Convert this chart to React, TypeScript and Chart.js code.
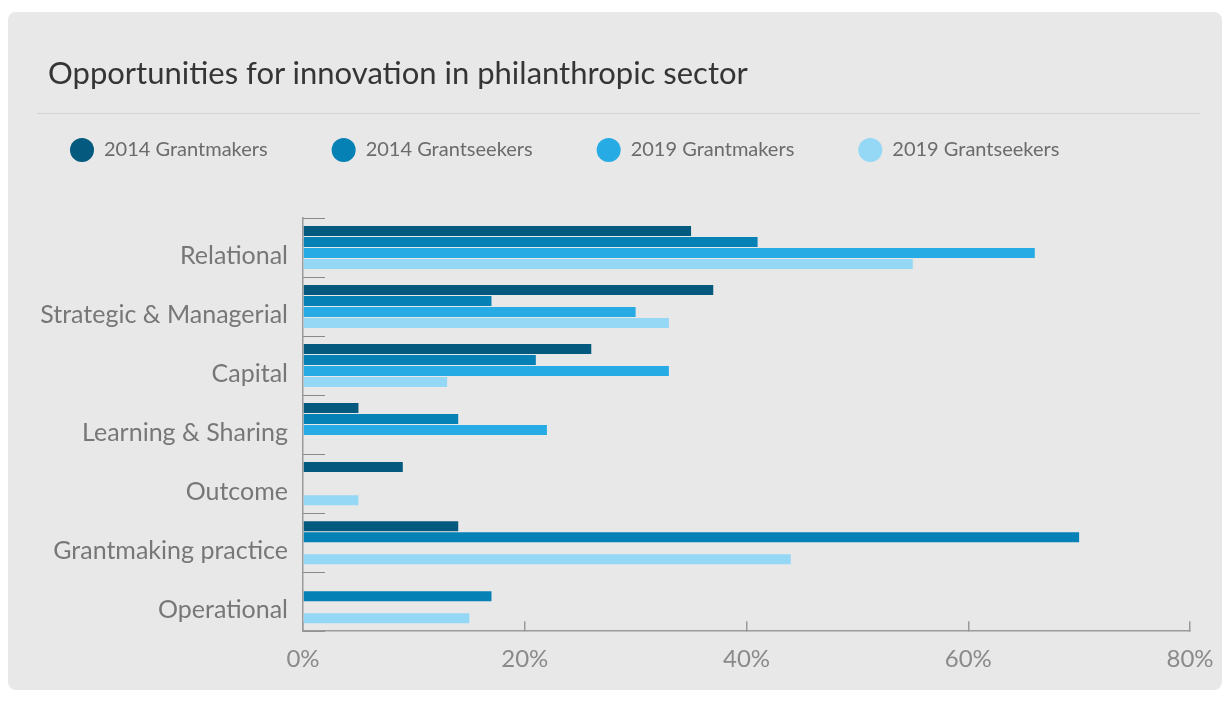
import React, { useEffect, useRef } from "react";
import { Chart, registerables } from "chart.js";

Chart.register(...registerables);

const chartTitle = "Opportunities for innovation in philanthropic sector";
const categories = [
  "Relational",
  "Strategic & Managerial",
  "Capital",
  "Learning & Sharing",
  "Outcome",
  "Grantmaking practice",
  "Operational",
];
const seriesNames = ["2014 Grantmakers", "2014 Grantseekers", "2019 Grantmakers", "2019 Grantseekers"];
const grantmakers2014 = [35, 37, 26, 5, 9, 14, null];
const grantseekers2014 = [41, 17, 21, 14, null, 70, 17];
const grantmakers2019 = [66, 30, 33, 22, null, null, null];
const grantseekers2019 = [55, 33, 13, null, 5, 44, 15];
const seriesColors = ["#045a7e", "#0681b5", "#26abe4", "#95d8f5"];
const xTickValues = [0, 20, 40, 60, 80];

const FONT = "Lato";

// adds empty space below the legend row
const legendGap = {
  id: "legendGap",
  beforeInit(chart: any) {
    const legend = chart.legend;
    if (!legend) return;
    const orig = legend.fit;
    legend.fit = function () {
      orig.call(this);
      this.height += 46;
    };
  },
};

export default function App() {
  const ref = useRef<HTMLCanvasElement>(null);

  useEffect(() => {
    const seriesValues = [grantmakers2014, grantseekers2014, grantmakers2019, grantseekers2019];
    const chart = new Chart(ref.current!, {
      type: "bar",
      data: {
        labels: categories,
        datasets: seriesNames.map((name, i) => ({
          label: name,
          data: seriesValues[i],
          backgroundColor: seriesColors[i],
          borderWidth: 0,
          categoryPercentage: 0.746,
          barPercentage: 0.909,
        })),
      },
      plugins: [legendGap],
      options: {
        indexAxis: "y",
        animation: false,
        responsive: false,
        devicePixelRatio: 1,
        layout: { padding: { left: -2, right: 32, top: 62, bottom: -8 } },
        plugins: {
          legend: {
            position: "top",
            align: "start",
            labels: {
              boxWidth: 24,
              boxHeight: 24,
              useBorderRadius: true,
              borderRadius: 12,
              padding: 64,
              color: "#6b6b6b",
              font: { family: FONT, size: 20 },
            },
          },
          tooltip: { enabled: false },
        },
        scales: {
          x: {
            min: 0,
            max: 80,
            afterBuildTicks: (scale: any) => {
              scale.ticks = xTickValues.map((v) => ({ value: v }));
            },
            afterFit: (scale: any) => {
              scale.paddingLeft = 0;
              scale.paddingRight = 0;
            },
            ticks: {
              callback: (v: any) => v + "%",
              color: "#8a8a8a",
              font: { family: FONT, size: 24 },
              padding: 24,
            },
            grid: { drawOnChartArea: false, tickLength: -10, color: "#9a9a9a", lineWidth: 1.5 },
            border: { color: "#9a9a9a", width: 1.5 },
          },
          y: {
            ticks: {
              color: "#777777",
              font: { family: FONT, size: 25 },
              padding: 37,
              labelOffset: 8,
            },
            grid: { offset: true, drawOnChartArea: false, tickLength: -22, color: "#8a8a8a", lineWidth: 1 },
            border: { color: "#9a9a9a", width: 1.5 },
            afterFit: (scale: any) => {
              scale.width = 297;
              scale.paddingTop = 0;
              scale.paddingBottom = 0;
            },
          },
        },
      },
    });
    return () => chart.destroy();
  }, []);

  return (
    <div
      style={{
        position: "absolute",
        left: 8,
        top: 12,
        width: 1214,
        height: 678,
        background: "#e8e8e8",
        borderRadius: 8,
        overflow: "hidden",
      }}
    >
      <div
        style={{
          position: "absolute",
          left: 40,
          top: 45,
          fontFamily: FONT,
          fontSize: 31,
          lineHeight: 1,
          color: "#353535",
          whiteSpace: "nowrap",
        }}
      >
        {chartTitle}
      </div>
      <div
        style={{
          position: "absolute",
          left: 29,
          top: 101,
          width: 1163,
          height: 1,
          background: "#d3d3d3",
        }}
      />
      <canvas ref={ref} width={1214} height={678} style={{ display: "block" }} />
    </div>
  );
}
